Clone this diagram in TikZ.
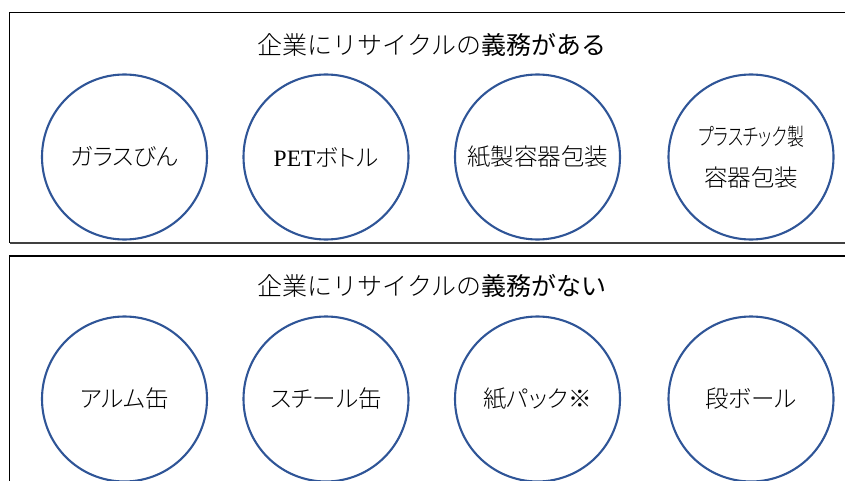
\documentclass[tikz,border=0pt]{standalone}
\usepackage{fontspec}
\setmainfont{Noto Sans CJK JP}
\newfontfamily\thinjp{Noto Sans CJK JP Light}
\newfontfamily\labeljp{Noto Sans CJK JP Light}[RawFeature=+palt]
\newfontfamily\latinserif{Liberation Serif}
\definecolor{ringblue}{RGB}{47,85,151}
\definecolor{edgegray}{RGB}{64,64,64}
\tikzset{
    bin/.style={
        circle,
        draw=ringblue,
        line width=2.1pt,
        minimum size=165pt,
        inner sep=0pt,
        align=center,
        font=\labeljp\fontsize{23.5}{41}\selectfont},
    heading/.style={
        inner sep=0pt,
        font=\fontsize{25}{30}\selectfont},
    frame/.style={
        line width=1.1pt}}

\begin{document}
\begin{tikzpicture}[x=1pt,y=-1pt]
    \useasboundingbox (0,0) rectangle (845,481);

    % upper box
    \coordinate (ultop) at (9.5,12.5);
    \coordinate (urtop) at (845,12.5);
    \coordinate (ulbot) at (9.5,243);
    \coordinate (urbot) at (845,243);
    \draw[frame] (urtop) -- (ultop) -- (ulbot);
    \draw[line width=2pt,edgegray] (ulbot) -- (urbot);

    % lower box
    \coordinate (lltop) at (9.5,256);
    \coordinate (lrtop) at (845,256);
    \coordinate (llbot) at (9.5,481);
    \draw[frame] (lrtop) -- (lltop) -- (llbot);

    \node[heading] (must) at (432,45) {{\thinjp 企業にリサイクルの}義務がある};
    \node[heading] (free) at (432,286) {{\thinjp 企業にリサイクルの}義務がない};

    \node[bin] (glass) at (124.5,157) {ガラスびん};
    \node[bin] (pet) at (326,157) {{\latinserif PET}ボトル};
    \node[bin] (paperpack) at (537.5,157) {紙製容器包装};
    \node[bin] (plastic) at (751,157) {\scalebox{0.72}[1]{プラスチック製}\\容器包装};

    \node[bin] (alu) at (124.5,399) {アルム缶};
    \node[bin] (steel) at (326,399) {スチール缶};
    \node[bin] (carton) at (537.5,399) {紙パック※};
    \node[bin] (board) at (751,399) {段ボール};
\end{tikzpicture}
\end{document}
